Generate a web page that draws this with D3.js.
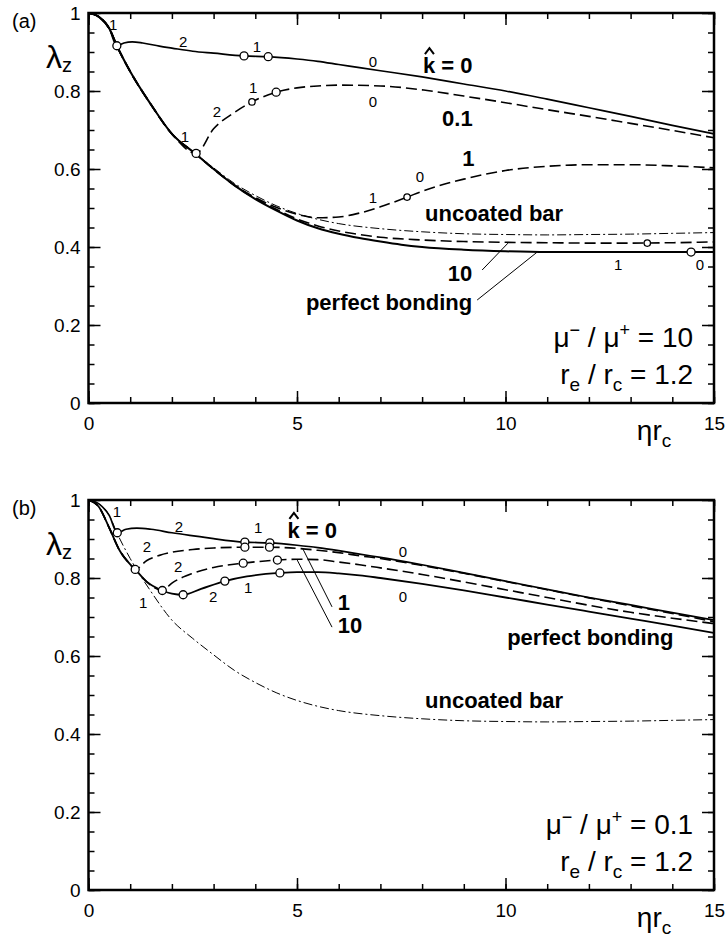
<!DOCTYPE html>
<html>
<head>
<meta charset="utf-8">
<script src="https://cdn.jsdelivr.net/npm/d3@7"></script>
<style>
  body { margin: 0; background: #fff; }
  svg { display: block; font-family: "Liberation Sans", Arial, Helvetica, sans-serif; }
</style>
</head>
<body>
<div id="chart"></div>
<script>
// ---- data (x = eta*r_c, y = lambda_z) ----
// shared: uncoated bar does not depend on mu ratio
const uncoated = [[0,1],[0.25,0.99],[0.5,0.96],[0.68,0.916],[1,0.85],[1.5,0.765],[2,0.692],[2.5,0.645],[3,0.603],[3.5,0.563],[4,0.532],[4.5,0.506],[5,0.486],[5.5,0.471],[6,0.46],[7,0.447],[8,0.439],[9,0.434],[10,0.432],[11,0.431],[12,0.432],[13,0.433],[14,0.435],[15,0.437]];

// panel (a)  mu-/mu+ = 10
const aPerfect = [[0,1],[0.25,0.99],[0.5,0.96],[0.68,0.916],[1,0.85],[1.5,0.765],[2,0.69],[2.58,0.638],[3,0.6],[3.5,0.558],[4,0.523],[4.5,0.494],[5,0.468],[5.5,0.448],[6,0.434],[6.5,0.423],[7,0.414],[7.5,0.406],[8,0.4],[9,0.393],[10,0.389],[11,0.387],[12,0.387],[13,0.387],[14,0.387],[15,0.387]];
const aK10 = [[0,1],[0.25,0.99],[0.5,0.96],[0.68,0.916],[1,0.85],[1.5,0.765],[2,0.69],[2.58,0.638],[3,0.6],[3.5,0.558],[4,0.524],[4.5,0.497],[5,0.472],[5.5,0.454],[6,0.441],[6.5,0.432],[7,0.425],[8,0.418],[9,0.414],[10,0.412],[11,0.411],[12,0.41],[13,0.41],[14,0.411],[15,0.413]];
const aK1 = [[0,1],[0.25,0.99],[0.5,0.96],[0.68,0.916],[1,0.85],[1.5,0.765],[2,0.69],[2.58,0.638],[3,0.6],[3.5,0.559],[4,0.527],[4.5,0.502],[5,0.484],[5.5,0.475],[6,0.477],[6.5,0.487],[7,0.503],[7.64,0.528],[8,0.543],[9,0.574],[10,0.596],[11,0.607],[12,0.611],[13,0.611],[14,0.608],[15,0.603]];
const aK01 = [[0,1],[0.25,0.99],[0.5,0.96],[0.68,0.916],[1,0.85],[1.5,0.765],[2,0.69],[2.58,0.64],[3,0.703],[3.5,0.745],[3.92,0.772],[4.5,0.797],[5,0.808],[5.5,0.813],[6,0.815],[7,0.813],[8,0.803],[9,0.787],[10,0.77],[11,0.752],[12,0.735],[13,0.717],[14,0.699],[15,0.68]];
const aK0 = [[0,1],[0.25,0.99],[0.5,0.96],[0.68,0.916],[0.85,0.923],[1.05,0.926],[1.3,0.923],[1.7,0.915],[2,0.91],[2.5,0.902],[3,0.897],[3.73,0.89],[4.31,0.888],[5,0.882],[5.5,0.876],[6,0.868],[6.5,0.86],[7,0.852],[8,0.836],[9,0.818],[10,0.8],[11,0.779],[12,0.757],[13,0.735],[14,0.712],[15,0.69]];
const aNodes = [[0.68,0.916],[3.73,0.89],[4.31,0.888],[2.58,0.64],[4.5,0.797],[14.45,0.387]];
const aNodesSmall = [[3.92,0.772],[7.64,0.528],[13.4,0.41]];
const aModes = [["1",0.59,0.956],["2",2.27,0.913],["1",4.04,0.9],["0",6.82,0.862],["0",6.82,0.759],["1",3.95,0.795],["2",3.08,0.733],["1",2.31,0.669],["1",6.82,0.513],["0",7.95,0.567],["1",12.7,0.341],["0",14.66,0.341]];

// panel (b)  mu-/mu+ = 0.1
const bPerfect = [[0,1],[0.25,0.982],[0.5,0.928],[0.75,0.87],[1,0.835],[1.12,0.822],[1.4,0.79],[1.77,0.768],[2,0.76],[2.27,0.757],[2.7,0.772],[3.27,0.792],[3.8,0.804],[4.59,0.813],[5,0.815],[5.5,0.815],[6,0.812],[6.5,0.807],[7,0.8],[8,0.785],[9,0.768],[10,0.75],[11,0.732],[12,0.714],[13,0.696],[14,0.678],[15,0.659]];
const bK10 = [[0,1],[0.25,0.982],[0.5,0.928],[0.75,0.87],[1,0.835],[1.12,0.822],[1.4,0.79],[1.77,0.768],[2,0.787],[2.5,0.812],[3,0.827],[3.71,0.838],[4.53,0.846],[5,0.848],[5.5,0.847],[6,0.841],[6.5,0.834],[7,0.826],[8,0.809],[9,0.79],[10,0.77],[11,0.75],[12,0.73],[13,0.712],[14,0.697],[15,0.683]];
const bK1 = [[0,1],[0.25,0.982],[0.5,0.928],[0.75,0.87],[1,0.835],[1.12,0.822],[1.4,0.845],[1.7,0.858],[2,0.866],[2.5,0.873],[3,0.877],[3.75,0.879],[4.34,0.879],[5,0.876],[5.5,0.871],[6,0.865],[6.5,0.857],[7,0.85],[8,0.832],[9,0.812],[10,0.791],[11,0.77],[12,0.749],[13,0.729],[14,0.709],[15,0.688]];
const bK0 = [[0,1],[0.25,0.99],[0.5,0.96],[0.69,0.916],[0.9,0.925],[1.16,0.928],[1.5,0.925],[2,0.916],[2.67,0.906],[3,0.901],[3.75,0.892],[4.35,0.89],[5,0.884],[5.5,0.878],[6,0.87],[6.5,0.861],[7,0.853],[8,0.834],[9,0.813],[10,0.792],[11,0.771],[12,0.75],[13,0.731],[14,0.711],[15,0.692]];
const bNodes = [[0.69,0.916],[3.75,0.892],[4.35,0.89],[1.12,0.822],[3.75,0.879],[4.34,0.879],[1.77,0.768],[3.71,0.838],[4.53,0.846],[2.27,0.757],[3.27,0.792],[4.59,0.813]];
const bModes = [["1",0.68,0.956],["2",2.17,0.918],["1",4.07,0.915],["2",1.4,0.867],["2",2.15,0.815],["2",2.99,0.738],["1",3.83,0.762],["1",1.31,0.723],["0",7.54,0.854],["0",7.54,0.738]];

const xMajor = [0, 5, 10, 15];
const yMajor = [0, 0.2, 0.4, 0.6, 0.8, 1];

// ---- layout ----
const width = 727, height = 940;
const svg = d3.select("#chart").append("svg").attr("width", width).attr("height", height);

const x = d3.scaleLinear().domain([0, 15]).range([88.5, 714]);
const yA = d3.scaleLinear().domain([0, 1]).range([403, 13]);
const yB = d3.scaleLinear().domain([0, 1]).range([890, 500]);

const SOLID = null, DASH = "11,5", DASHDOT = "9,3,2,3";

function drawAxes(g, y, tag) {
  const fmt = d => d === 0 || d === 1 ? d : d.toFixed(1);
  const minorX = d3.range(0, 15.01, 1), minorY = d3.range(0, 1.001, 0.05);
  const style = sel => {
    sel.select(".domain").remove();
    sel.selectAll("line").attr("stroke", "#000").attr("stroke-width", 1.5);
    sel.selectAll("text").attr("font-size", 19).attr("font-family", null).attr("fill", "#000");
  };
  g.append("g").attr("transform", `translate(0,${y(0)})`)
    .call(d3.axisBottom(x).tickValues(minorX).tickSize(-6).tickFormat("")).call(style);
  g.append("g").attr("transform", `translate(0,${y(0)})`)
    .call(d3.axisBottom(x).tickValues(xMajor).tickSize(-12).tickPadding(14).tickFormat(d3.format("d"))).call(style);
  g.append("g").attr("transform", `translate(0,${y(1)})`)
    .call(d3.axisTop(x).tickValues(minorX).tickSize(-6).tickFormat("")).call(style);
  g.append("g").attr("transform", `translate(0,${y(1)})`)
    .call(d3.axisTop(x).tickValues(xMajor).tickSize(-12).tickFormat("")).call(style);
  g.append("g").attr("transform", `translate(${x(0)},0)`)
    .call(d3.axisLeft(y).tickValues(minorY).tickSize(-6).tickFormat("")).call(style);
  g.append("g").attr("transform", `translate(${x(0)},0)`)
    .call(d3.axisLeft(y).tickValues(yMajor).tickSize(-12).tickPadding(8).tickFormat(fmt)).call(style);
  g.append("g").attr("transform", `translate(${x(15)},0)`)
    .call(d3.axisRight(y).tickValues(minorY).tickSize(-6).tickFormat("")).call(style);
  g.append("g").attr("transform", `translate(${x(15)},0)`)
    .call(d3.axisRight(y).tickValues(yMajor).tickSize(-12).tickFormat("")).call(style);

  g.append("rect")
    .attr("x", x(0)).attr("y", y(1))
    .attr("width", x(15) - x(0)).attr("height", y(0) - y(1))
    .attr("fill", "none").attr("stroke", "#000").attr("stroke-width", 2.5);

  // panel tag, axis titles
  g.append("text").attr("x", 12).attr("y", y(1) + 15).attr("font-size", 20).text(tag);

  const lam = g.append("text").attr("x", 46).attr("y", y(1) + 55).attr("font-size", 32);
  lam.append("tspan").text("λ");
  lam.append("tspan").attr("dy", 4).attr("font-size", 20).text("z");

  const eta = g.append("text").attr("x", x(13.15)).attr("y", y(0) + 37).attr("font-size", 28);
  eta.append("tspan").text("ηr");
  eta.append("tspan").attr("dy", 7).attr("font-size", 19).text("c");
}

function drawCurves(g, y, series, nodes, nodesSmall, modes) {
  const line = d3.line().x(d => x(d[0])).y(d => y(d[1])).curve(d3.curveMonotoneX);
  g.selectAll(null).data(series).enter().append("path")
    .attr("d", d => line(d.pts))
    .attr("fill", "none").attr("stroke", "#000")
    .attr("stroke-width", d => d.w)
    .attr("stroke-dasharray", d => d.dash);

  g.selectAll(null).data(nodes).enter().append("circle")
    .attr("cx", d => x(d[0])).attr("cy", d => y(d[1])).attr("r", 4)
    .attr("fill", "#fff").attr("stroke", "#000").attr("stroke-width", 1.3);
  g.selectAll(null).data(nodesSmall).enter().append("circle")
    .attr("cx", d => x(d[0])).attr("cy", d => y(d[1])).attr("r", 3.2)
    .attr("fill", "#fff").attr("stroke", "#000").attr("stroke-width", 1.3);

  g.selectAll(null).data(modes).enter().append("text")
    .attr("x", d => x(d[1])).attr("y", d => y(d[2]))
    .attr("text-anchor", "middle").attr("font-size", 15)
    .text(d => d[0]);
}

function boldLabel(g, y, txt, px, py, anchor) {
  return g.append("text").attr("x", x(px)).attr("y", y(py))
    .attr("text-anchor", anchor || "start")
    .attr("font-size", 22).attr("font-weight", "bold").text(txt);
}

// k with a hat drawn as a small stroke above the letter
function kHat(g, y, px, py) {
  const t = boldLabel(g, y, "k = 0", px, py);
  const hx = x(px) + 6.5, hy = y(py) - 19;
  g.append("path")
    .attr("d", `M${hx - 4.5},${hy} L${hx},${hy - 6} L${hx + 4.5},${hy}`)
    .attr("fill", "none").attr("stroke", "#000").attr("stroke-width", 2);
  return t;
}

function leader(g, y, p0, p1) {
  g.append("line")
    .attr("x1", x(p0[0])).attr("y1", y(p0[1])).attr("x2", x(p1[0])).attr("y2", y(p1[1]))
    .attr("stroke", "#000").attr("stroke-width", 1);
}

function ratioText(g, y, ratio) {
  const t1 = g.append("text").attr("x", x(14.5)).attr("y", y(0.143))
    .attr("text-anchor", "end").attr("font-size", 28);
  t1.append("tspan").text("μ");
  t1.append("tspan").attr("dy", -11).attr("font-size", 18).text("−");
  t1.append("tspan").attr("dy", 11).text(" / μ");
  t1.append("tspan").attr("dy", -11).attr("font-size", 18).text("+");
  t1.append("tspan").attr("dy", 11).text(" = " + ratio);

  const t2 = g.append("text").attr("x", x(14.5)).attr("y", y(0.05))
    .attr("text-anchor", "end").attr("font-size", 28);
  t2.append("tspan").text("r");
  t2.append("tspan").attr("dy", 7).attr("font-size", 19).text("e");
  t2.append("tspan").attr("dy", -7).text(" / r");
  t2.append("tspan").attr("dy", 7).attr("font-size", 19).text("c");
  t2.append("tspan").attr("dy", -7).text(" = 1.2");
}

// ---- panel (a) ----
const gA = svg.append("g");
drawCurves(gA, yA, [
  { pts: uncoated, dash: DASHDOT, w: 1 },
  { pts: aPerfect, dash: SOLID, w: 2 },
  { pts: aK10, dash: DASH, w: 1.6 },
  { pts: aK1, dash: DASH, w: 1.6 },
  { pts: aK01, dash: DASH, w: 1.6 },
  { pts: aK0, dash: SOLID, w: 1.7 }
], aNodes, aNodesSmall, aModes);
kHat(gA, yA, 8.02, 0.846);
boldLabel(gA, yA, "0.1", 8.48, 0.71);
boldLabel(gA, yA, "1", 8.96, 0.608);
boldLabel(gA, yA, "uncoated bar", 8.07, 0.466);
boldLabel(gA, yA, "10", 9.2, 0.313, "end");
boldLabel(gA, yA, "perfect bonding", 9.2, 0.238, "end");
leader(gA, yA, [9.44, 0.341], [10.06, 0.41]);
leader(gA, yA, [9.32, 0.264], [10.76, 0.387]);
ratioText(gA, yA, "10");
drawAxes(gA, yA, "(a)");

// ---- panel (b) ----
const gB = svg.append("g");
drawCurves(gB, yB, [
  { pts: uncoated, dash: DASHDOT, w: 1 },
  { pts: bPerfect, dash: SOLID, w: 1.8 },
  { pts: bK10, dash: DASH, w: 1.6 },
  { pts: bK1, dash: DASH, w: 1.6 },
  { pts: bK0, dash: SOLID, w: 1.7 }
], bNodes, [], bModes);
kHat(gB, yB, 4.77, 0.903);
boldLabel(gB, yB, "1", 5.98, 0.718);
boldLabel(gB, yB, "10", 5.98, 0.659);
boldLabel(gB, yB, "perfect bonding", 10.04, 0.628);
boldLabel(gB, yB, "uncoated bar", 8.07, 0.467);
leader(gB, yB, [5.13, 0.877], [5.84, 0.726]);
leader(gB, yB, [5.0, 0.847], [5.84, 0.674]);
ratioText(gB, yB, "0.1");
drawAxes(gB, yB, "(b)");
</script>
</body>
</html>
